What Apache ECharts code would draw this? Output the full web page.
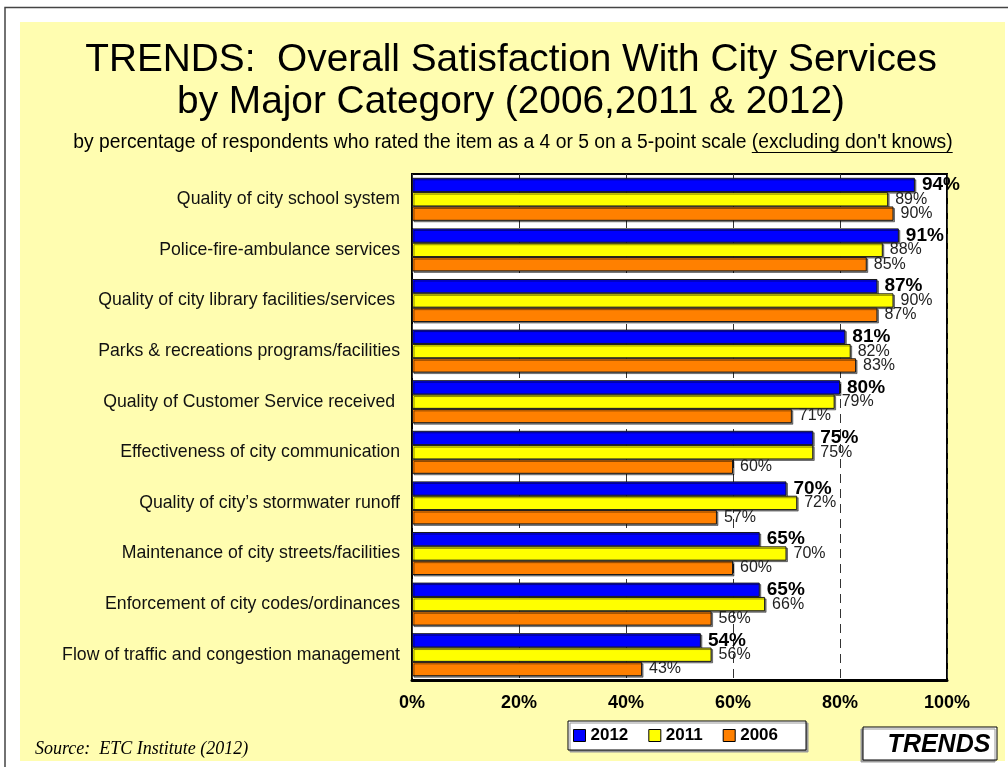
<!DOCTYPE html>
<html>
<head>
<meta charset="utf-8">
<title>TRENDS: Overall Satisfaction With City Services</title>
<script src="https://cdn.jsdelivr.net/npm/echarts@6/dist/echarts.min.js"></script>
<style>
  html, body { margin: 0; padding: 0; background: #fff; }
  #chart { width: 1008px; height: 767px; }
</style>
</head>
<body>
<div id="chart"></div>
<script>
// categories, top to bottom
const categories = [
  'Quality of city school system',
  'Police-fire-ambulance services',
  'Quality of city library facilities/services ',
  'Parks & recreations programs/facilities',
  'Quality of Customer Service received ',
  'Effectiveness of city communication',
  'Quality of city\u2019s stormwater runoff',
  'Maintenance of city streets/facilities',
  'Enforcement of city codes/ordinances',
  'Flow of traffic and congestion management'
]
const years = ['2012', '2011', '2006']
const v2012 = [94, 91, 87, 81, 80, 75, 70, 65, 65, 54]
const v2011 = [89, 88, 90, 82, 79, 75, 72, 70, 66, 56]
const v2006 = [90, 85, 87, 83, 71, 60, 57, 60, 56, 43]
const xMin = 0
const xMax = 100
const xStep = 20

const FONT = '"Liberation Sans", Arial, Helvetica, sans-serif'
const titleLines = ['TRENDS:  Overall Satisfaction With City Services', 'by Major Category (2006,2011 & 2012)']
const subText = 'by percentage of respondents who rated the item as a 4 or 5 on a 5-point scale '
const subUnderlined = '(excluding don\'t knows)'
const subFont = '19.3px ' + FONT

// measure subtitle so the underline sits under the last part
const mctx = document.createElement('canvas').getContext('2d')
mctx.font = subFont
const wFull = mctx.measureText(subText + subUnderlined).width
const wPart = mctx.measureText(subUnderlined).width
const subCx = 513
const ulEnd = subCx + wFull / 2
const ulStart = ulEnd - wPart

const chart = echarts.init(document.getElementById('chart'))

const barSeries = (name, data, color, labelBold) => ({
  name: name,
  type: 'bar',
  data: data,
  barGap: '0%',
  barCategoryGap: '15%',
  itemStyle: {
    color: color,
    borderColor: '#1a1a1a',
    borderWidth: 1,
    shadowColor: 'rgba(0,0,0,0.45)',
    shadowOffsetX: 1.5,
    shadowOffsetY: 1.5,
    shadowBlur: 0
  },
  label: {
    show: true,
    position: 'right',
    distance: 7,
    formatter: '{c}%',
    fontFamily: FONT,
    fontSize: labelBold ? 19 : 16,
    fontWeight: labelBold ? 'bold' : 'normal',
    color: labelBold ? '#000' : '#222'
  }
})

const option = {
  backgroundColor: '#fff',
  animation: false,
  grid: {
    left: 412,
    right: 61,
    top: 174,
    bottom: 87,
    show: true,
    backgroundColor: '#fff',
    borderColor: '#000',
    borderWidth: 2
  },
  legend: {
    data: years,
    left: 568,
    top: 721,
    orient: 'horizontal',
    icon: 'rect',
    itemWidth: 12,
    itemHeight: 12,
    itemGap: 20,
    padding: [6, 28, 6, 5],
    backgroundColor: '#fff',
    borderColor: '#000',
    borderWidth: 1,
    shadowColor: '#999',
    shadowOffsetX: 2,
    shadowOffsetY: 2,
    shadowBlur: 0,
    itemStyle: {
      borderColor: '#000',
      borderWidth: 1,
      shadowBlur: 0,
      shadowOffsetX: 0,
      shadowOffsetY: 0
    },
    textStyle: {
      fontFamily: FONT,
      fontSize: 17,
      fontWeight: 'bold',
      color: '#000'
    }
  },
  xAxis: {
    type: 'value',
    min: xMin,
    max: xMax,
    interval: xStep,
    axisLine: { show: true, lineStyle: { color: '#000', width: 3 } },
    axisTick: { show: false },
    axisLabel: {
      formatter: '{value}%',
      fontFamily: FONT,
      fontSize: 18,
      fontWeight: 'bold',
      color: '#000',
      margin: 14
    },
    splitLine: {
      show: true,
      lineStyle: { color: '#333', width: 1, type: [9, 6] }
    }
  },
  yAxis: {
    type: 'category',
    data: categories,
    inverse: true,
    axisLine: { show: false },
    axisTick: { show: false },
    axisLabel: {
      fontFamily: FONT,
      fontSize: 17.7,
      color: '#111',
      margin: 12
    }
  },
  series: [
    barSeries('2012', v2012, '#0000FF', true),
    barSeries('2011', v2011, '#FFFF00', false),
    barSeries('2006', v2006, '#FF8000', false)
  ],
  graphic: [
    // pale yellow slide area
    {
      type: 'rect', z: -10, silent: true,
      shape: { x: 20, y: 22, width: 985, height: 739 },
      style: { fill: '#FFFDB0' }
    },
    // outer frame
    {
      type: 'polyline', silent: true,
      shape: { points: [[5, 767], [5, 7.5], [1008, 7.5]] },
      style: { stroke: '#444', lineWidth: 1.5, fill: null }
    },
    {
      type: 'text', silent: true, x: 511, y: 60,
      style: { text: titleLines[0], font: '38.8px ' + FONT, fill: '#000', align: 'center', verticalAlign: 'middle' }
    },
    {
      type: 'text', silent: true, x: 511, y: 102,
      style: { text: titleLines[1], font: '38.8px ' + FONT, fill: '#000', align: 'center', verticalAlign: 'middle' }
    },
    {
      type: 'text', silent: true, x: subCx, y: 143,
      style: { text: subText + subUnderlined, font: subFont, fill: '#000', align: 'center', verticalAlign: 'middle' }
    },
    {
      type: 'line', silent: true,
      shape: { x1: ulStart, y1: 152.5, x2: ulEnd, y2: 152.5 },
      style: { stroke: '#000', lineWidth: 1.2 }
    },
    {
      type: 'text', silent: true, x: 35, y: 749,
      style: { text: 'Source:  ETC Institute (2012)', font: 'italic 18px "Liberation Serif", "Times New Roman", serif', fill: '#000', align: 'left', verticalAlign: 'middle' }
    },
    // TRENDS box
    {
      type: 'rect', silent: true,
      shape: { x: 863, y: 727, width: 134, height: 33 },
      style: { fill: '#fff', stroke: '#000', lineWidth: 1, shadowColor: '#999', shadowOffsetX: -2, shadowOffsetY: 2, shadowBlur: 0 }
    },
    {
      type: 'text', silent: true, x: 939, y: 745, z: 10,
      style: { text: 'TRENDS', font: 'italic bold 25px ' + FONT, fill: '#000', align: 'center', verticalAlign: 'middle' }
    }
  ]
}

chart.setOption(option)
</script>
</body>
</html>
